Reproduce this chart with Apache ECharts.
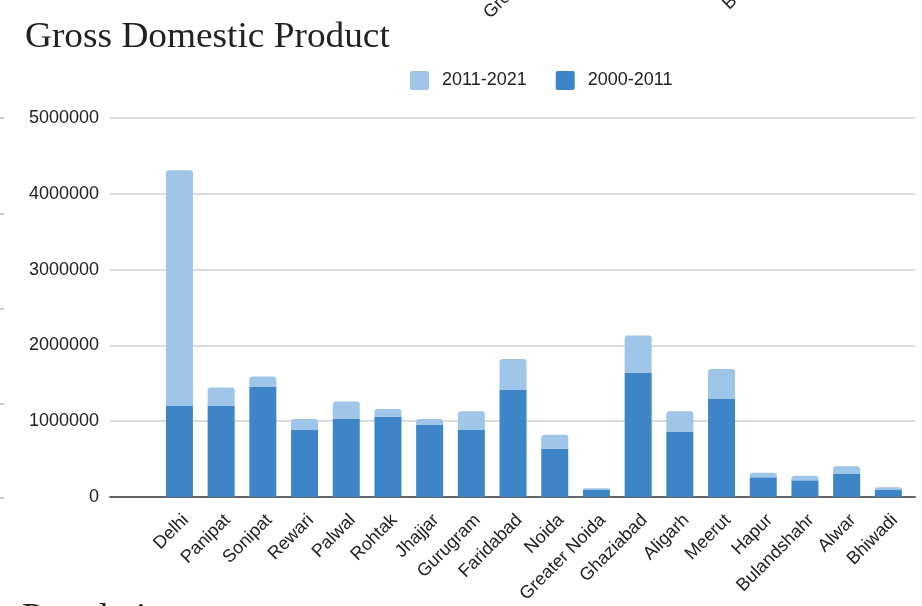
<!DOCTYPE html>
<html>
<head>
<meta charset="utf-8">
<script src="https://cdn.jsdelivr.net/npm/echarts@6/dist/echarts.min.js"></script>
<style>
  html, body { margin: 0; padding: 0; background: #fff; }
  #main { width: 922px; height: 606px; }
</style>
</head>
<body>
<div id="main"></div>
<script>
// categories + values
const cities = ["Delhi", "Panipat", "Sonipat", "Rewari", "Palwal", "Rohtak", "Jhajjar", "Gurugram",
  "Faridabad", "Noida", "Greater Noida", "Ghaziabad", "Aligarh", "Meerut", "Hapur", "Bulandshahr", "Alwar", "Bhiwadi"]
const gdp2000_2011 = [1200000, 1200000, 1450000, 885000, 1030000, 1060000, 950000, 885000,
  1410000, 635000, 92000, 1635000, 865000, 1300000, 260000, 220000, 305000, 92000]
const gdp2011_2021 = [3110000, 245000, 140000, 145000, 230000, 100000, 80000, 245000,
  410000, 185000, 23000, 495000, 265000, 390000, 60000, 60000, 100000, 38000]
const seriesNames = ["2000-2011", "2011-2021"]
const yMax = 5000000
const yStep = 1000000

const darkBlue = "#3d85c6"
const lightBlue = "#9fc5e8"

var myChart = echarts.init(document.getElementById('main'))

// category spacing in the reference is narrower than the gridline span,
// so gridlines / y labels live on grid 0 and the bars on grid 1
var option = {
  animation: false,
  legend: {
    data: ["2011-2021", "2000-2011"],
    left: 405,
    top: 66,
    itemWidth: 19,
    itemHeight: 19,
    itemGap: 29,
    icon: 'path://M2,0 L17,0 Q19,0 19,2 L19,17 Q19,19 17,19 L2,19 Q0,19 0,17 L0,2 Q0,0 2,0 Z',
    textStyle: { fontFamily: 'Liberation Sans', fontSize: 18, color: '#222', padding: [0, 0, 0, 8] }
  },
  grid: [
    { left: 110, right: 7, top: 118, bottom: 109 },
    { left: 158.6, width: 750.6, top: 118, bottom: 109 }
  ],
  xAxis: [
    {
      gridIndex: 0, type: 'value', min: 0, max: 1,
      axisLine: { show: true, lineStyle: { color: '#666', width: 2 } },
      axisTick: { show: false }, axisLabel: { show: false }, splitLine: { show: false }
    },
    {
      gridIndex: 1, type: 'category', data: cities,
      axisLine: { show: false }, axisTick: { show: false },
      axisLabel: {
        rotate: 45, margin: 14, interval: 0, verticalAlign: 'top',
        fontFamily: 'Liberation Sans', fontSize: 18, color: '#222'
      }
    }
  ],
  yAxis: [
    {
      gridIndex: 0, type: 'value', min: 0, max: yMax, interval: yStep,
      axisLine: { show: false }, axisTick: { show: false },
      axisLabel: {
        margin: 11, fontFamily: 'Liberation Sans', fontSize: 18, color: '#222',
        formatter: v => String(v)
      },
      splitLine: { lineStyle: { color: '#d0d0d0', width: 1.5 } }
    },
    {
      gridIndex: 1, type: 'value', min: 0, max: yMax, interval: yStep, show: false
    }
  ],
  series: [
    {
      name: seriesNames[0], type: 'bar', stack: 'gdp', xAxisIndex: 1, yAxisIndex: 1,
      data: gdp2000_2011, barWidth: 27,
      itemStyle: { color: darkBlue }
    },
    {
      name: seriesNames[1], type: 'bar', stack: 'gdp', xAxisIndex: 1, yAxisIndex: 1,
      data: gdp2011_2021, barWidth: 27,
      itemStyle: { color: lightBlue, borderRadius: [3, 3, 0, 0] }
    }
  ],
  graphic: [
    // title (serif, stretched a bit to match the wider original face)
    { type: 'text', x: 25, y: 20, scaleX: 1.066,
      style: { text: 'Gross Domestic Product', font: '35px Liberation Serif', fill: '#222', textVerticalAlign: 'top' } },
    // bits of neighbouring charts cut off at the edges of the shot
    { type: 'text', x: 493, y: 22, rotation: Math.PI / 4,
      style: { text: 'Greater Noida', font: '18px Liberation Sans', fill: '#222', textVerticalAlign: 'bottom' } },
    { type: 'text', x: 732, y: 13, rotation: Math.PI / 4,
      style: { text: 'Bulandshahr', font: '18px Liberation Sans', fill: '#222', textVerticalAlign: 'bottom' } },
    { type: 'text', x: 22, y: 601, scaleX: 1.066,
      style: { text: 'Population', font: '35px Liberation Serif', fill: '#222', textVerticalAlign: 'top' } },
    { type: 'line', shape: { x1: 0, y1: 118, x2: 4, y2: 118 }, style: { stroke: '#999' } },
    { type: 'line', shape: { x1: 0, y1: 214, x2: 4, y2: 214 }, style: { stroke: '#999' } },
    { type: 'line', shape: { x1: 0, y1: 309, x2: 4, y2: 309 }, style: { stroke: '#999' } },
    { type: 'line', shape: { x1: 0, y1: 404, x2: 4, y2: 404 }, style: { stroke: '#999' } },
    { type: 'line', shape: { x1: 0, y1: 498, x2: 4, y2: 498 }, style: { stroke: '#999' } }
  ]
}

myChart.setOption(option)
</script>
</body>
</html>
